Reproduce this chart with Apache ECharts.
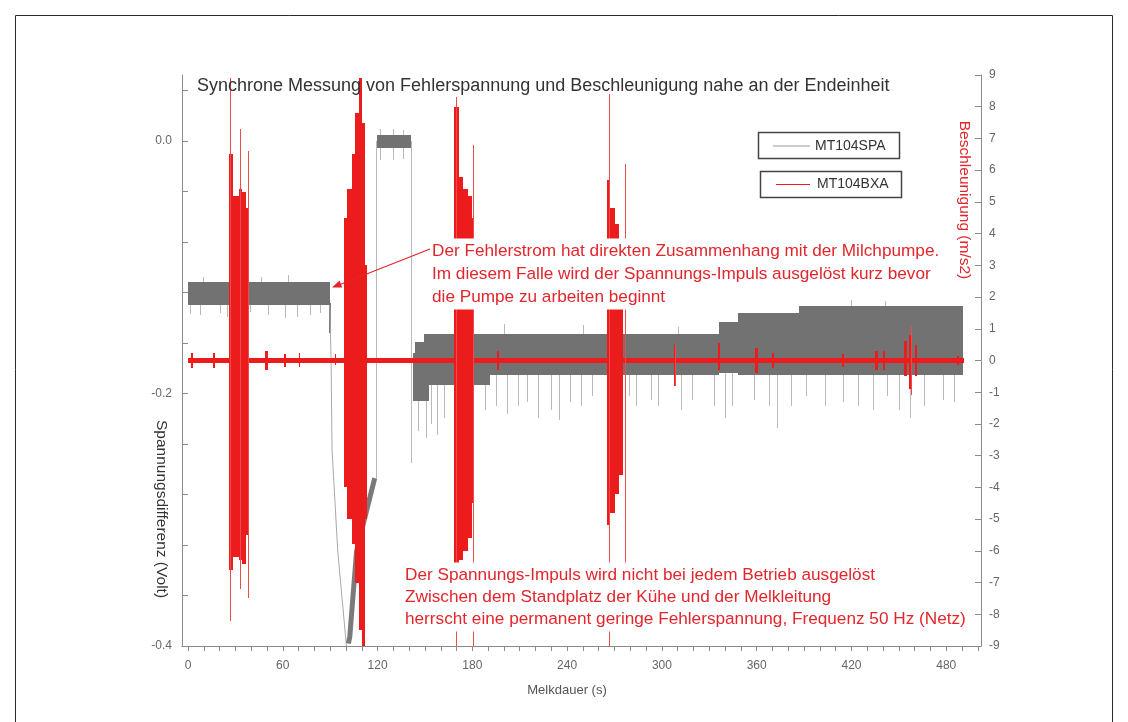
<!DOCTYPE html>
<html><head><meta charset="utf-8">
<script src="https://cdn.jsdelivr.net/npm/echarts@6/dist/echarts.min.js"></script>
<style>html,body{margin:0;padding:0;background:#fff}#c{width:1128px;height:722px}</style>
</head><body><div id="c"></div>
<script>
// ---- tick labels ----
const xTickValues = [0,10,20,30,40,50,60,70,80,90,100,110,120,130,140,150,160,170,180,190,200,210,220,230,240,250,260,270,280,290,300,310,320,330,340,350,360,370,380,390,400,410,420,430,440,450,460,470,480,490,500];
const xLabelValues = [0,60,120,180,240,300,360,420,480];
const leftTickValues = [-0.4,-0.36,-0.32,-0.28,-0.24,-0.2,-0.16,-0.12,-0.08,-0.04,0,0.04];
const leftLabelValues = [-0.4,-0.2,0];
const rightTickValues = [-9,-8,-7,-6,-5,-4,-3,-2,-1,0,1,2,3,4,5,6,7,8,9];

// ---- MT104SPA (Volt): envelope bands [t0, t1, low, high] ----
const spaBands = [
  [0, 89.8, -0.130, -0.112],
  [89.5, 90.8, -0.152, -0.128],
  [119.4, 141.0, -0.0056, 0.005],
  [142.4, 143.6, -0.206, -0.168],
  [143.6, 149.2, -0.206, -0.159],
  [149.2, 152.8, -0.206, -0.153],
  [152.8, 191.4, -0.193, -0.153],
  [191.4, 336.4, -0.185, -0.153],
  [336.4, 348.1, -0.184, -0.143],
  [348.1, 386.7, -0.185, -0.136],
  [386.7, 490.7, -0.185, -0.131]
];
// light spikes [t, low, high]
const spaSpikes = [
  [1.3,-0.137,-0.125],[7.7,-0.138,-0.125],[9.8,-0.125,-0.108],[20.2,-0.136,-0.125],[24.5,-0.139,-0.125],
  [39.2,-0.135,-0.125],[46,-0.125,-0.108],[50.8,-0.138,-0.125],[61.3,-0.1405,-0.125],[63.4,-0.125,-0.106],
  [68.7,-0.139,-0.125],[77.1,-0.138,-0.125],[83.5,-0.136,-0.125],
  [118.8,-0.267,0.0],[121.4,-0.015,0.010],[129.6,-0.015,0.010],[136,-0.014,0.009],[141.3,-0.255,0.0],
  [145.7,-0.230,-0.18],[150.4,-0.235,-0.18],[154,-0.224,-0.18],[157.4,-0.233,-0.18],[162.1,-0.219,-0.18],
  [187.8,-0.213,-0.18],[194.9,-0.210,-0.18],[201.9,-0.216,-0.18],[208.9,-0.210,-0.18],[214.7,-0.207,-0.18],
  [221.8,-0.219,-0.18],[230,-0.213,-0.18],[234.6,-0.221,-0.18],[241.6,-0.207,-0.18],[248.7,-0.210,-0.18],
  [255.7,-0.202,-0.18],[279.1,-0.202,-0.18],[283.7,-0.210,-0.18],[293.1,-0.205,-0.18],[297.8,-0.210,-0.18],
  [311.8,-0.213,-0.18],[318.8,-0.205,-0.18],[332.9,-0.210,-0.18],[339.9,-0.219,-0.18],[344.6,-0.210,-0.18],
  [358.6,-0.205,-0.18],[368,-0.210,-0.18],[372.6,-0.227,-0.18],[382,-0.210,-0.18],[391.3,-0.202,-0.18],
  [403,-0.210,-0.18],[414.7,-0.207,-0.18],[424.1,-0.210,-0.18],[433.4,-0.213,-0.18],[442.8,-0.202,-0.18],
  [449.8,-0.213,-0.18],[456.8,-0.219,-0.18],[466.2,-0.210,-0.18],[477.9,-0.205,-0.18],[484.9,-0.207,-0.18],
  [200,-0.16,-0.145],[250,-0.16,-0.146],[310,-0.16,-0.147],[420,-0.14,-0.126],[441,-0.14,-0.127]
];
// descent (thin) and rise (thick) of the voltage [t, V]
const spaDescent = [[89.8,-0.13],[90.6,-0.175],[91.2,-0.245],[94.8,-0.325],[100.3,-0.4]];
const spaRise = [[101.5,-0.398],[102.4,-0.393],[106.7,-0.325],[113,-0.293],[118.2,-0.267]];

// ---- MT104BXA (m/s2): bands [t0, t1, low, high] ----
const bxaBands = [
  [0, 491, -0.08, 0.08],
  [26.2, 28.6, -6.6, 6.5],[28.6, 32.4, -6.2, 5.2],[32.4, 34.0, -6.3, 5.4],[34.0, 37.0, -6.4, 5.3],[37.0, 38.0, -5.5, 4.8],
  [98.5, 100.5, -4.0, 4.5],[100.5, 104, -5.0, 5.4],[104, 106, -5.8, 6.5],[106, 108, -7.0, 7.8],[108, 110, -8.5, 8.9],[110, 112, -9, 7.5],[112, 113, -5, 3],
  [168.5, 171.5, -6.8, 8.0],[171.5, 174, -6.3, 5.8],[174, 177, -6.0, 5.4],[177, 179.5, -5.6, 5.2],[179.5, 181, -4.5, 4.5],
  [265, 267, -5.2, 5.7],[267, 270, -4.8, 4.8],[270, 273, -4.2, 4.3],[273, 275.5, -3.6, 3.6],
  [195.5,197,-0.3,0.3],[307.5,309,-0.8,0.5],[335.8,337,-0.3,0.55],[359,361,-0.4,0.4],[369.5,371,-0.25,0.25],
  [414,415.5,-0.2,0.2],[435,436.5,-0.3,0.3],[440,441.5,-0.3,0.3],
  [453.5,455,-0.5,0.6],[456.5,458.5,-0.9,0.8],[460,461.5,-0.5,0.5],[486.5,488,-0.15,0.15],
  [2,3,-0.25,0.25],[16,17,-0.25,0.25],[49,50.5,-0.3,0.3],[61,62,-0.2,0.2],[70,71,-0.2,0.25],[93,94,-0.15,0.2]
];
// thin spikes [t, low, high]
const bxaSpikes = [
  [26.6,-8.2,8.9],[33.2,-7.2,7.3],[37.8,-7.5,6.6],
  [169.5,-9,8.3],[180.5,-9,6.8],
  [266.5,-9,8.4],[276.5,-7.8,6.2],
  [308.3,-0.8,0.5],[457.5,-1.1,1.1]
];

const chart = echarts.init(document.getElementById('c'), null, {renderer:'canvas'});

function rectRenderer(color, minW) {
  return function (params, api) {
    const a = api.coord([api.value(0), api.value(3)]);
    const b = api.coord([api.value(1), api.value(2)]);
    const x0 = Math.round(a[0]), x1 = Math.round(b[0]);
    const y0 = Math.round(a[1]), y1 = Math.round(b[1]);
    return {
      type: 'rect',
      shape: {x: x0, y: y0, width: Math.max(minW, x1 - x0), height: Math.max(1, y1 - y0)},
      style: {fill: color}
    };
  };
}
const toRect = s => [s[0], s[0], s[1], s[2]];

const GRAY_AX = '#8a8a8a', LBL = '#666';
const RED = '#ec1c1c', TXT_RED = '#e2262c';
const FONT = 'Liberation Sans, Arial, sans-serif';

const axisCommon = {
  axisLine: {show: true, onZero: false, lineStyle: {color: GRAY_AX, width: 1}},
  splitLine: {show: false},
  axisLabel: {color: LBL, fontSize: 12, fontFamily: FONT}
};

const lineText = (t, x, y) => ({
  type: 'text', z: 110, x: x, y: y,
  style: {text: t, fill: TXT_RED, fontSize: 17.2, fontFamily: FONT,
    textVerticalAlign: 'middle', backgroundColor: '#fff', padding: [4, 3, 4, 3]}
});

chart.setOption({
  animation: false,
  backgroundColor: '#fff',
  grid: {left: 182, right: 147, top: 75, bottom: 76, containLabel: false, outerBoundsMode: 'none'},
  xAxis: {
    type: 'value', min: -3.8, max: 502,
    ...axisCommon,
    axisTick: {show: true, inside: false, length: 5, lineStyle: {color: GRAY_AX}, customValues: xTickValues},
    axisLabel: {...axisCommon.axisLabel, margin: 14, customValues: xLabelValues}
  },
  yAxis: [
    {
      type: 'value', min: -0.4, max: 0.0524, position: 'left',
      ...axisCommon,
      axisTick: {show: true, inside: true, length: 6, lineStyle: {color: GRAY_AX}, customValues: leftTickValues},
      axisLabel: {...axisCommon.axisLabel, margin: 10, customValues: leftLabelValues, formatter: v => v.toFixed(1)}
    },
    {
      type: 'value', min: -9, max: 9, position: 'right',
      ...axisCommon,
      axisTick: {show: true, inside: true, length: 6, lineStyle: {color: GRAY_AX}, customValues: rightTickValues},
      axisLabel: {...axisCommon.axisLabel, margin: 8, customValues: rightTickValues}
    }
  ],
  series: [
    {type: 'custom', name: 'MT104SPA spikes', xAxisIndex: 0, yAxisIndex: 0, clip: true, z: 1,
     encode: {x: [0,1], y: [2,3]}, data: spaSpikes.map(toRect), renderItem: rectRenderer('#b9b9b9', 1)},
    {type: 'custom', name: 'MT104SPA', xAxisIndex: 0, yAxisIndex: 0, clip: true, z: 2,
     encode: {x: [0,1], y: [2,3]}, data: spaBands, renderItem: rectRenderer('#727272', 1)},
    {type: 'line', name: 'MT104SPA descent', yAxisIndex: 0, data: spaDescent, showSymbol: false, z: 2,
     lineStyle: {color: '#a8a8a8', width: 1}},
    {type: 'line', name: 'MT104SPA rise', yAxisIndex: 0, data: spaRise, showSymbol: false, z: 2,
     lineStyle: {color: '#7a7a7a', width: 5}},
    {type: 'custom', name: 'MT104BXA', xAxisIndex: 0, yAxisIndex: 1, clip: true, z: 3,
     encode: {x: [0,1], y: [2,3]}, data: bxaBands, renderItem: rectRenderer(RED, 1)},
    {type: 'custom', name: 'MT104BXA spikes', xAxisIndex: 0, yAxisIndex: 1, clip: true, z: 3,
     encode: {x: [0,1], y: [2,3]}, data: bxaSpikes.map(toRect), renderItem: rectRenderer('#f04a4a', 1)}
  ],
  graphic: [
    {type: 'rect', z: 100, silent: true, shape: {x: 15.5, y: 15.5, width: 1097, height: 720},
     style: {fill: null, stroke: '#2a2a2a', lineWidth: 1}},
    {type: 'text', z: 100, x: 197, y: 86, style: {text: 'Synchrone Messung von Fehlerspannung und Beschleunigung nahe an der Endeinheit',
      fill: '#333', fontSize: 18, fontFamily: FONT, textVerticalAlign: 'middle'}},
    // legend boxes
    {type: 'rect', z: 100, shape: {x: 758.5, y: 132.5, width: 141, height: 26}, style: {fill: '#fff', stroke: '#444', lineWidth: 1.5}},
    {type: 'line', z: 101, shape: {x1: 773, y1: 146, x2: 810, y2: 146}, style: {stroke: '#999', lineWidth: 1}},
    {type: 'text', z: 101, x: 815, y: 146, style: {text: 'MT104SPA', fill: '#333', fontSize: 14, fontFamily: FONT, textVerticalAlign: 'middle'}},
    {type: 'rect', z: 100, shape: {x: 760.5, y: 171.5, width: 141, height: 26}, style: {fill: '#fff', stroke: '#444', lineWidth: 1.5}},
    {type: 'line', z: 101, shape: {x1: 776, y1: 184.5, x2: 810, y2: 184.5}, style: {stroke: RED, lineWidth: 1}},
    {type: 'text', z: 101, x: 817, y: 184.5, style: {text: 'MT104BXA', fill: '#333', fontSize: 14, fontFamily: FONT, textVerticalAlign: 'middle'}},
    // axis names
    {type: 'text', z: 100, x: 161, y: 509, rotation: -Math.PI/2, style: {text: 'Spannungsdifferenz (Volt)', fill: '#333',
      fontSize: 15.5, fontFamily: FONT, textAlign: 'center', textVerticalAlign: 'middle'}},
    {type: 'text', z: 100, x: 964, y: 200, rotation: -Math.PI/2, style: {text: 'Beschleunigung (m/s2)', fill: TXT_RED,
      fontSize: 15.5, fontFamily: FONT, textAlign: 'center', textVerticalAlign: 'middle'}},
    {type: 'text', z: 100, x: 567, y: 690, style: {text: 'Melkdauer (s)', fill: '#555',
      fontSize: 13, fontFamily: FONT, textAlign: 'center', textVerticalAlign: 'middle'}},
    // annotation 1
    lineText('Der Fehlerstrom hat direkten Zusammenhang mit der Milchpumpe.', 429, 251),
    lineText('Im diesem Falle wird der Spannungs-Impuls ausgelöst kurz bevor', 429, 274),
    lineText('die Pumpe zu arbeiten beginnt', 429, 297),
    // annotation 2
    lineText('Der Spannungs-Impuls wird nicht bei jedem Betrieb ausgelöst', 402, 575),
    lineText('Zwischen dem Standplatz der Kühe und der Melkleitung', 402, 597),
    lineText('herrscht eine permanent geringe Fehlerspannung, Frequenz 50 Hz (Netz)', 402, 619),
    // arrow
    {type: 'line', z: 111, shape: {x1: 430, y1: 249, x2: 340, y2: 284.5}, style: {stroke: TXT_RED, lineWidth: 1.2}},
    {type: 'polygon', z: 111, shape: {points: [[332, 287.5], [342.2, 287.4], [339.6, 280.6]]}, style: {fill: TXT_RED}}
  ]
});
</script>
</body></html>
